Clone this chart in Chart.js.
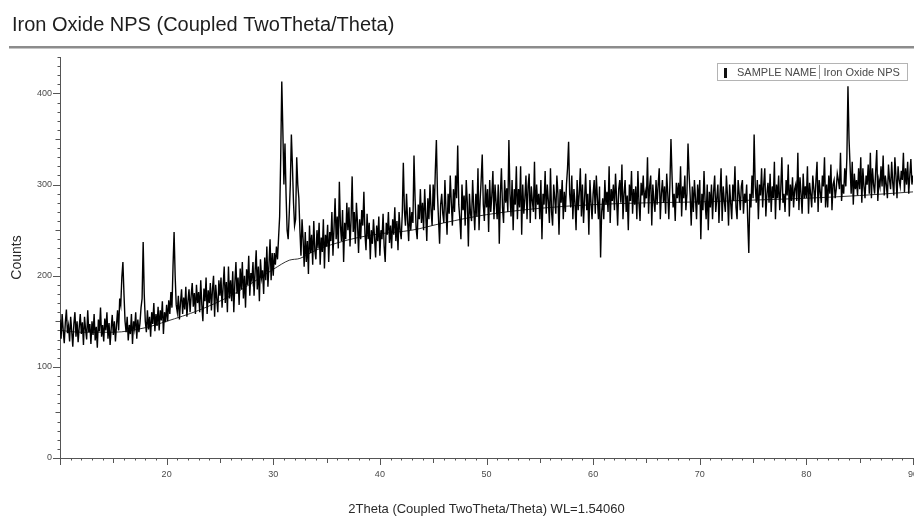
<!DOCTYPE html>
<html>
<head>
<meta charset="utf-8">
<title>Iron Oxide NPS</title>
<script src="https://cdn.jsdelivr.net/npm/chart.js@4.4.1/dist/chart.umd.min.js"></script>
<style>
    body { margin: 0; background: #fff; }
    #xrd { display: block; }
</style>
</head>
<body>
<canvas id="xrd" width="914" height="520"></canvas>
<script>
const TITLE = 'Iron Oxide NPS (Coupled TwoTheta/Theta)';
const X_LABEL = '2Theta (Coupled TwoTheta/Theta) WL=1.54060';
const Y_LABEL = 'Counts';
const LEGEND_KEY = 'SAMPLE NAME';
const SAMPLE_NAME = 'Iron Oxide NPS';

const thetaStart = 10;
const thetaStep = 0.1;
const counts = [
    152, 131, 158, 140, 126, 149, 163, 137, 145, 128,
    155, 139, 122, 147, 160, 133, 150, 127, 143, 158,
    136, 149, 124, 155, 141, 130, 162, 138, 147, 125,
    150, 135, 158, 129, 144, 121, 152, 139, 165, 133,
    146, 128, 153, 140, 160, 131, 148, 124, 142, 157,
    135, 150, 128, 146, 162, 140, 175, 168, 198, 215,
    180, 150, 138, 155, 129, 146, 136, 158, 125, 150,
    142, 160, 131, 152, 138, 148, 165, 175, 237, 180,
    150, 138, 162, 141, 155, 133, 160, 147, 170, 139,
    158, 145, 166, 140, 162, 151, 172, 136, 160, 149,
    168, 150, 173, 158, 182, 165, 210, 248, 200, 168,
    160, 178, 152, 170, 185, 158, 176, 163, 188, 155,
    172, 185, 160, 178, 192, 166, 181, 158, 190, 170,
    182, 160, 195, 168, 150, 186, 172, 198, 158, 184,
    170, 192, 162, 185, 200, 155, 190, 175, 160, 195,
    178, 198, 165, 188, 210, 170, 193, 160, 210, 175,
    195, 172, 205, 160, 192, 215, 180, 198, 168, 208,
    185, 215, 175, 200, 165, 207, 190, 222, 178, 203,
    195, 215, 178, 205, 228, 185, 210, 172, 218, 198,
    206, 180, 220, 195, 232, 188, 212, 240, 195, 225,
    200, 225, 212, 232, 218, 242, 265, 330, 413, 360,
    300, 345, 290, 250, 240, 268, 300, 355, 320, 280,
    255, 262, 330, 300, 285, 250, 222, 262, 240, 210,
    248, 215, 238, 202, 255, 225, 245, 212, 260, 228,
    218, 250, 230, 258, 212, 242, 226, 262, 208, 245,
    232, 256, 215, 248, 238, 270, 222, 252, 285, 240,
    265, 230, 303, 255, 238, 272, 215, 258, 240, 280,
    250, 275, 232, 262, 309, 248, 270, 235, 280, 258,
    225, 262, 240, 272, 255, 292, 246, 228, 268, 240,
    258, 218, 250, 235, 262, 242, 220, 255, 238, 265,
    222, 250, 240, 268, 232, 215, 258, 245, 270, 236,
    255, 230, 262, 245, 275, 238, 260, 228, 270, 250,
    240, 268, 324, 272, 255, 290, 260, 238, 275, 250,
    270, 258, 332, 285, 252, 240, 278, 262, 295, 258,
    280, 250, 295, 268, 238, 285, 262, 300, 272, 255,
    300, 272, 315, 349, 290, 262, 235, 278, 290, 268,
    258, 305, 272, 245, 290, 268, 310, 280, 255, 295,
    270, 310, 285, 343, 278, 262, 240, 300, 272, 288,
    255, 305, 280, 232, 290, 268, 260, 305, 275, 250,
    290, 265, 318, 250, 282, 305, 333, 278, 260, 300,
    275, 295, 248, 305, 270, 288, 315, 262, 300, 280,
    262, 300, 235, 290, 318, 275, 258, 305, 280, 296,
    270, 349, 290, 265, 305, 250, 295, 278, 320, 262,
    295, 275, 320, 245, 300, 268, 285, 310, 262, 298,
    312, 258, 298, 282, 270, 325, 262, 300, 278, 290,
    262, 305, 240, 290, 278, 315, 268, 300, 282, 258,
    318, 270, 255, 300, 285, 268, 310, 290, 245, 295,
    280, 305, 262, 292, 270, 300, 318, 347, 290, 275,
    310, 262, 295, 280, 250, 305, 272, 290, 318, 265,
    300, 258, 285, 312, 272, 290, 245, 305, 280, 262,
    290, 305, 268, 310, 285, 262, 298, 220, 270, 285,
    262, 305, 278, 292, 270, 320, 258, 295, 282, 300,
    272, 312, 285, 255, 295, 305, 280, 322, 262, 290,
    305, 270, 288, 250, 300, 282, 315, 268, 295, 278,
    298, 262, 315, 280, 260, 302, 288, 310, 275, 292,
    285, 330, 268, 298, 310, 255, 300, 282, 270, 305,
    278, 300, 318, 262, 290, 305, 280, 298, 268, 312,
    290, 262, 300, 350, 310, 275, 290, 260, 302, 285,
    302, 280, 320, 265, 298, 285, 310, 272, 290, 345,
    312, 288, 255, 298, 270, 305, 285, 262, 300, 278,
    305, 240, 290, 272, 315, 282, 262, 300, 250, 292,
    275, 300, 262, 292, 310, 270, 285, 300, 258, 290,
    318, 260, 298, 282, 270, 310, 288, 255, 300, 280,
    262, 300, 282, 320, 275, 262, 305, 290, 272, 298,
    305, 268, 290, 280, 300, 260, 225, 290, 275, 310,
    285, 355, 300, 280, 305, 262, 300, 288, 318, 275,
    300, 318, 265, 290, 302, 280, 312, 270, 298, 285,
    325, 262, 300, 285, 310, 272, 295, 330, 280, 290,
    270, 305, 288, 322, 265, 300, 282, 308, 275, 295,
    300, 282, 335, 272, 308, 290, 268, 312, 285, 298,
    285, 320, 268, 302, 290, 275, 310, 295, 280, 305,
    325, 270, 305, 292, 280, 310, 298, 330, 275, 300,
    275, 310, 290, 322, 272, 300, 305, 285, 295, 312,
    305, 295, 335, 282, 300, 290, 318, 298, 330, 408,
    350, 320, 290, 325, 278, 312, 295, 305, 288, 318,
    295, 330, 280, 318, 298, 285, 310, 300, 322, 290,
    335, 285, 318, 300, 290, 315, 338, 282, 305, 298,
    320, 298, 332, 288, 310, 300, 285, 322, 305, 295,
    325, 302, 288, 330, 310, 285, 320, 305, 298, 315,
    305, 335, 292, 318, 300, 325, 290, 310, 328, 300,
    310
];

// fitted background curve
const bgTheta = [10, 12, 15, 18, 20, 23, 26, 28, 30, 31.5, 32.5, 34, 36, 38, 40, 43, 46, 50, 55, 60, 65, 70, 75, 80, 85, 90];
const bgCounts = [140, 138, 138, 143, 150, 162, 178, 192, 207, 217, 219, 228, 236, 242, 246, 250, 258, 267, 274, 278, 280, 281, 283, 285, 288, 292];

const xTickLabels = [20, 30, 40, 50, 60, 70, 80, 90];
const yTickLabels = [0, 100, 200, 300, 400];

const FONT = "'Liberation Sans', Arial, sans-serif";
const TEXT_COLOR = '#4a4a4a';
const AXIS_COLOR = '#555';

const scanData = counts.map((c, i) => ({x: thetaStart + i * thetaStep, y: c}));
const bgData = bgTheta.map((t, i) => ({x: t, y: bgCounts[i]}));

// title + rule under it, minor ticks, legend box
const decorations = {
    id: 'decorations',
    beforeDraw(chart) {
        const ctx = chart.ctx;
        ctx.save();
        ctx.fillStyle = '#fff';
        ctx.fillRect(0, 0, chart.width, chart.height);
        ctx.fillStyle = '#1e1e1e';
        ctx.font = '20px ' + FONT;
        ctx.textBaseline = 'alphabetic';
        ctx.fillText(TITLE, 12, 31);
        ctx.fillStyle = '#8c8c8c';
        ctx.fillRect(9, 46, chart.width - 9, 2.5);
        ctx.restore();
    },
    afterDraw(chart) {
        const ctx = chart.ctx;
        const x = chart.scales.x;
        const y = chart.scales.y;
        const area = chart.chartArea;
        ctx.save();
        ctx.strokeStyle = AXIS_COLOR;
        ctx.lineWidth = 1;
        ctx.beginPath();
        for (let v = 10; v <= 90; v++) {
            const px = Math.round(x.getPixelForValue(v)) + 0.5;
            const len = v % 10 === 0 ? 7 : (v % 5 === 0 ? 5 : 2.5);
            ctx.moveTo(px, area.bottom);
            ctx.lineTo(px, area.bottom + len);
        }
        for (let v = 0; v <= 440; v += 10) {
            const py = Math.round(y.getPixelForValue(v)) + 0.5;
            const len = v % 100 === 0 ? 7 : (v % 50 === 0 ? 4.5 : 2.5);
            ctx.moveTo(area.left - len, py);
            ctx.lineTo(area.left, py);
        }
        ctx.stroke();

        // legend
        const bx = 717, by = 63, bw = 190, bh = 17;
        ctx.strokeStyle = '#b4b4b4';
        ctx.strokeRect(bx + 0.5, by + 0.5, bw, bh);
        ctx.fillStyle = '#111';
        ctx.fillRect(724, 68, 3, 10);
        ctx.font = '11px ' + FONT;
        ctx.fillStyle = TEXT_COLOR;
        ctx.textBaseline = 'middle';
        ctx.fillText(LEGEND_KEY, 737, by + bh / 2 + 1);
        const sepX = 737 + ctx.measureText(LEGEND_KEY).width + 3;
        ctx.strokeStyle = '#9a9a9a';
        ctx.beginPath();
        ctx.moveTo(Math.round(sepX) + 0.5, by + 2);
        ctx.lineTo(Math.round(sepX) + 0.5, by + bh - 1);
        ctx.stroke();
        ctx.fillText(SAMPLE_NAME, sepX + 4, by + bh / 2 + 1);
        ctx.restore();
    }
};

new Chart(document.getElementById('xrd'), {
    type: 'line',
    data: {
        datasets: [{
            label: SAMPLE_NAME,
            data: scanData,
            borderColor: '#000',
            borderWidth: 1.4,
            pointRadius: 0,
            tension: 0,
            order: 1
        }, {
            label: 'Background',
            data: bgData,
            borderColor: '#333',
            borderWidth: 1,
            pointRadius: 0,
            cubicInterpolationMode: 'monotone',
            order: 2
        }]
    },
    options: {
        responsive: false,
        animation: false,
        events: [],
        layout: {padding: {top: 57, right: 1, left: 0, bottom: 0}},
        plugins: {
            legend: {display: false},
            tooltip: {enabled: false}
        },
        scales: {
            x: {
                type: 'linear',
                min: 10,
                max: 90,
                afterFit: s => { s.height = 62; s.paddingLeft = 0; s.paddingRight = 0; },
                grid: {drawOnChartArea: false, drawTicks: false},
                border: {display: true, color: AXIS_COLOR, width: 1},
                ticks: {
                    stepSize: 10,
                    padding: 11,
                    maxRotation: 0,
                    autoSkip: false,
                    color: TEXT_COLOR,
                    font: {family: FONT, size: 9},
                    callback: v => xTickLabels.includes(v) ? String(v) : ''
                },
                title: {
                    display: true,
                    text: X_LABEL,
                    color: '#2a2a2a',
                    font: {family: FONT, size: 13},
                    padding: {top: 0, bottom: 3}
                }
            },
            y: {
                type: 'linear',
                min: 0,
                max: 440,
                afterFit: s => { s.width = 60; },
                grid: {drawOnChartArea: false, drawTicks: false},
                border: {display: true, color: AXIS_COLOR, width: 1},
                ticks: {
                    stepSize: 100,
                    padding: 8,
                    autoSkip: false,
                    color: TEXT_COLOR,
                    font: {family: FONT, size: 9},
                    callback: v => yTickLabels.includes(v) ? String(v) : ''
                },
                title: {
                    display: true,
                    text: Y_LABEL,
                    color: '#2a2a2a',
                    font: {family: FONT, size: 14},
                    padding: {top: 9, bottom: 0}
                }
            }
        }
    },
    plugins: [decorations]
});
</script>
</body>
</html>
